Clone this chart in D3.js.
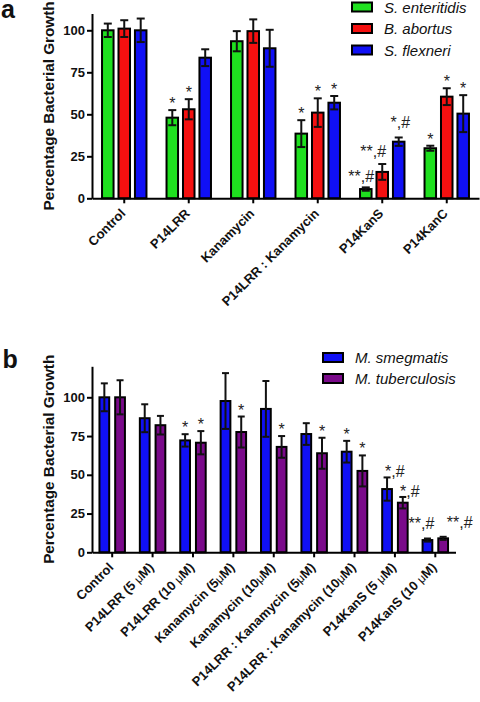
<!DOCTYPE html>
<html><head><meta charset="utf-8">
<script src="https://cdn.jsdelivr.net/npm/d3@7"></script>
<style>body{margin:0;background:#fff} svg{display:block}</style>
</head>
<body>
<svg id="c" width="480" height="702"></svg>
<script>
// ---------- Panel a data ----------
const catsA = ["Control", "P14LRR", "Kanamycin", "P14LRR : Kanamycin", "P14KanS", "P14KanC"];
const seriesA = ["S. enteritidis", "B. abortus", "S. flexneri"];
const enteritidisA = [100, 48, 93.5, 38.5, 5.5, 29.8];
const enteritidisErrA = [4, 4.5, 6, 8, 1, 1.5];
const abortusA = [101, 53, 99.5, 51, 15.7, 60.5];
const abortusErrA = [5, 6, 7, 8.5, 4.7, 5];
const flexneriA = [100, 83.7, 89.3, 56.9, 33.7, 50.4];
const flexneriErrA = [7, 5, 11, 4, 2.5, 11];
const sigA = [["", "", ""], ["*", "*", ""], ["", "", ""], ["*", "*", "*"], ["**,#", "**,#", "*,#"], ["*", "*", "*"]];
const ticksA = [0, 25, 50, 75, 100];

// ---------- Panel b data ----------
const catsB = ["Control", "P14LRR (5 μM)", "P14LRR (10 μM)", "Kanamycin (5μM)", "Kanamycin (10μM)",
  "P14LRR : Kanamycin (5μM)", "P14LRR : Kanamycin (10μM)", "P14KanS (5 μM)", "P14KanS (10 μM)"];
const seriesB = ["M. smegmatis", "M. tuberculosis"];
const smegmatisB = [100, 86.5, 72.2, 97.6, 92.5, 76.3, 64.9, 40.8, 7.9];
const smegmatisErrB = [9, 9, 4, 18, 18, 7, 7, 7.5, 1];
const tuberculosisB = [100, 82, 70.7, 77.6, 68, 63.9, 52.5, 32, 9];
const tuberculosisErrB = [11, 6, 7.5, 10, 7, 10, 10, 3.7, 1];
const sigB = [["", ""], ["", ""], ["*", "*"], ["", "*"], ["", "*"], ["", "*"], ["*", "*"], ["*,#", "*,#"], ["**,#", "**,#"]];
const ticksB = [0, 25, 50, 75, 100];

// ---------- layout / style ----------
const FONT = "'Liberation Sans', Arial, sans-serif";
const colorsA = ["#1fe01f", "#f51010", "#1010f5"];
const colorsB = ["#1010f5", "#7a0a8a"];
// label nudges [dx, dy] for the '#' annotations (layout only)
const nudgeA = {"4-0": [-4.6, -5.7], "4-1": [-9, -7.5], "4-2": [1.7, -9.5]};
const nudgeB = {"7-0": [7.7, 0], "7-1": [7, 0], "8-0": [-6, -10], "8-1": [16.5, -9]};

const svg = d3.select("#c");

function drawPanel(cfg) {
  const g = svg.append("g");
  const x = d3.scaleBand().domain(cfg.cats).range(cfg.xr)
    .paddingInner(cfg.pi).paddingOuter(cfg.pi / 2);
  const y = d3.scaleLinear().domain(cfg.yd).range(cfg.yr);
  const xs = d3.scaleBand().domain(cfg.series).range([1, x.bandwidth() - 1]).paddingInner(cfg.spi);

  cfg.cats.forEach((c, i) => {
    cfg.series.forEach((s, j) => {
      const v = cfg.vals[j][i];
      const bx = x(c) + xs(s), bw = xs.bandwidth();
      g.append("rect").attr("x", bx).attr("y", y(v)).attr("width", bw)
        .attr("height", y(0) - y(v)).attr("fill", cfg.colors[j])
        .attr("stroke", "#000").attr("stroke-width", 2);
    });
  });
  // error bars on top
  cfg.cats.forEach((c, i) => {
    cfg.series.forEach((s, j) => {
      const v = cfg.vals[j][i], e = cfg.errs[j][i];
      const bx = x(c) + xs(s), bw = xs.bandwidth(), cx = bx + bw / 2;
      const ey = g.append("g").attr("stroke", "#111").attr("stroke-width", 2);
      ey.append("line").attr("x1", cx).attr("x2", cx).attr("y1", y(v + e)).attr("y2", y(Math.max(0, v - e)));
      ey.append("line").attr("x1", cx - cfg.cap).attr("x2", cx + cfg.cap).attr("y1", y(v + e)).attr("y2", y(v + e));
      ey.append("line").attr("x1", cx - cfg.cap).attr("x2", cx + cfg.cap).attr("y1", y(v - e)).attr("y2", y(v - e));
      const lab = cfg.sig[i][j];
      if (lab) {
        const n = cfg.nudge[i + "-" + j] || [0, -1];
        g.append("text").attr("x", cx + n[0]).attr("y", y(v + e) + n[1])
          .attr("text-anchor", "middle").attr("font-family", FONT)
          .attr("font-size", 16).attr("fill", "#222").text(lab);
      }
    });
  });

  // axes
  const ya = g.append("g").attr("transform", `translate(${cfg.xr[0]},0)`)
    .call(d3.axisLeft(y).tickValues(cfg.ticks).tickSize(5).tickSizeOuter(0).tickPadding(2).tickFormat(d3.format("d")));
  ya.select(".domain").attr("stroke-width", 2).attr("stroke", "#000");
  ya.selectAll(".tick line").attr("stroke-width", 2).attr("stroke", "#000");
  ya.selectAll(".tick text").attr("font-family", FONT).attr("font-size", 13)
    .attr("font-weight", "bold").attr("fill", "#111");

  const xa = g.append("g").attr("transform", `translate(0,${y(0)})`)
    .call(d3.axisBottom(x).tickSize(5).tickSizeOuter(0).tickFormat(""));
  xa.select(".domain").attr("stroke-width", 2).attr("stroke", "#000");
  xa.selectAll(".tick line").attr("stroke-width", 2).attr("stroke", "#000");

  cfg.cats.forEach(c => {
    const tx = x(c) + x.bandwidth() / 2 + 2, ty = y(0) + 16;
    const t = g.append("text").attr("transform", `translate(${tx},${ty}) rotate(-45)`)
      .attr("text-anchor", "end").attr("font-family", FONT).attr("font-size", 13)
      .attr("font-weight", "bold").attr("fill", "#111");
    const parts = c.split("μ");
    parts.forEach((p, k) => {
      if (k > 0) t.append("tspan").attr("font-weight", "normal").attr("font-size", 12).text("μ");
      t.append("tspan").text(p);
    });
  });

  // y title
  const ymid = (cfg.yr[0] + cfg.yr[1]) / 2;
  g.append("text").attr("transform", `translate(${cfg.titleX},${ymid}) rotate(-90)`)
    .attr("text-anchor", "middle").attr("font-family", FONT).attr("font-size", 15.3)
    .attr("font-weight", "bold").attr("fill", "#111").text("Percentage Bacterial Growth");

  // panel letter
  g.append("text").attr("x", cfg.letterPos[0]).attr("y", cfg.letterPos[1])
    .attr("font-family", FONT).attr("font-size", 25).attr("font-weight", "bold")
    .attr("fill", "#111").text(cfg.letter);

  // legend
  cfg.series.forEach((s, j) => {
    const ly = cfg.legY + j * cfg.legStep;
    g.append("rect").attr("x", cfg.legX).attr("y", ly - 4.5).attr("width", 20).attr("height", 9)
      .attr("fill", cfg.colors[j]).attr("stroke", "#000").attr("stroke-width", 2);
    g.append("text").attr("x", cfg.legX + 32).attr("y", ly + 5.5)
      .attr("font-family", FONT).attr("font-size", 15).attr("font-style", "italic")
      .attr("fill", "#111").text(s);
  });
}

drawPanel({
  cats: catsA, series: seriesA, colors: colorsA,
  vals: [enteritidisA, abortusA, flexneriA], errs: [enteritidisErrA, abortusErrA, flexneriErrA],
  sig: sigA, nudge: nudgeA, ticks: ticksA,
  xr: [92, 479], yd: [0, 110], yr: [198.3, 13.5], pi: 0.28, spi: 0.3, cap: 4,
  titleX: 54, letter: "a", letterPos: [1, 18], legX: 352, legY: 7, legStep: 21.5
});

drawPanel({
  cats: catsB, series: seriesB, colors: colorsB,
  vals: [smegmatisB, tuberculosisB], errs: [smegmatisErrB, tuberculosisErrB],
  sig: sigB, nudge: nudgeB, ticks: ticksB,
  xr: [92, 455.5], yd: [0, 120], yr: [552.3, 366.3], pi: 0.32, spi: 0.38, cap: 3.5,
  titleX: 53.5, letter: "b", letterPos: [2.5, 368], legX: 323, legY: 357.5, legStep: 21
});
</script>
</body></html>
